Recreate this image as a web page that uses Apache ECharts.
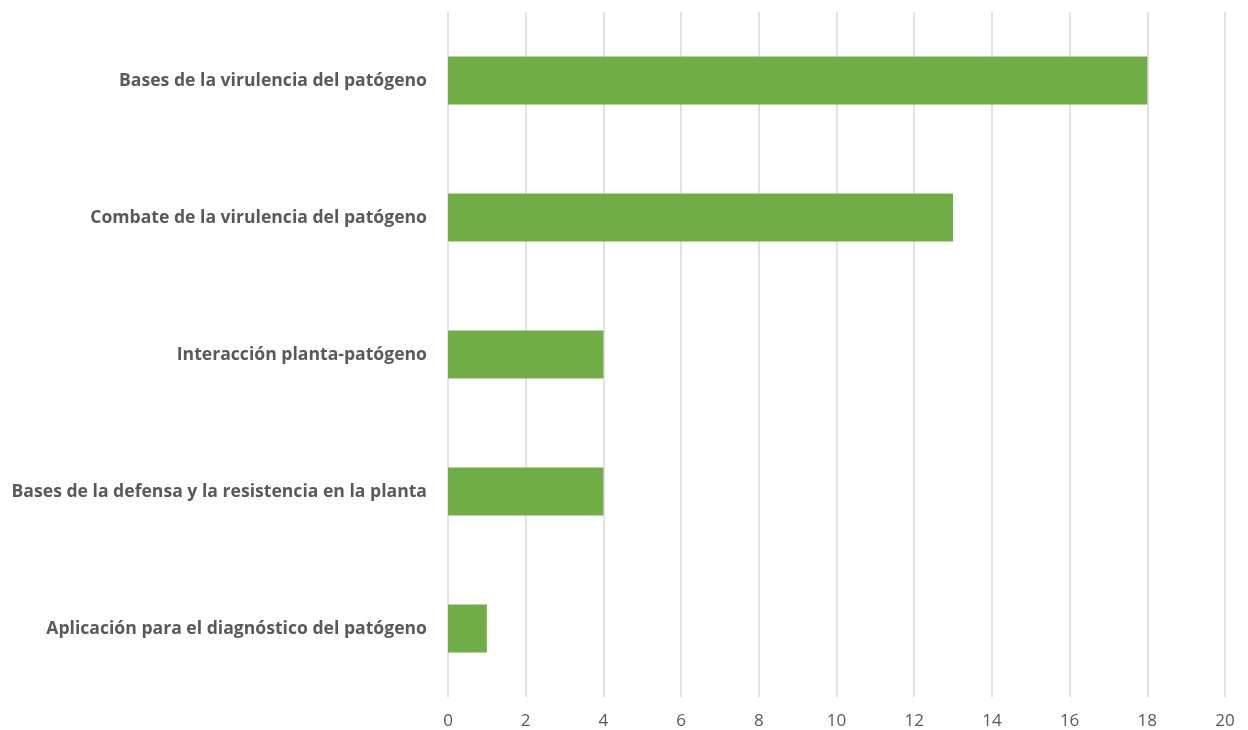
<!DOCTYPE html>
<html><head><meta charset="utf-8">
<script src="https://cdn.jsdelivr.net/npm/echarts@6/dist/echarts.min.js"></script>
<style>html,body{margin:0;padding:0;background:#fff}#c{width:1248px;height:730px}</style>
</head><body><div id="c"></div>
<script>
const categories = [
  "Bases de la virulencia del patógeno",
  "Combate de la virulencia del patógeno",
  "Interacción planta-patógeno",
  "Bases de la defensa y la resistencia en la planta",
  "Aplicación para el diagnóstico del patógeno"
];
const values = [18, 13, 4, 4, 1];

const chart = echarts.init(document.getElementById('c'));
chart.setOption({
  animation: false,
  backgroundColor: '#ffffff',
  grid: { left: 448, right: 23, top: 12, bottom: 33, containLabel: false },
  xAxis: {
    type: 'value', min: 0, max: 20, interval: 2,
    axisLine: { show: false }, axisTick: { show: false },
    splitLine: { show: true, lineStyle: { color: '#d9d9d9', width: 1.5 } },
    axisLabel: { color: '#595959', fontFamily: 'Open Sans', fontSize: 17, margin: 16 }
  },
  yAxis: {
    type: 'category', data: categories, inverse: true,
    axisLine: { show: false }, axisTick: { show: false },
    axisLabel: { color: '#595959', fontFamily: 'Open Sans', fontWeight: 'bold', fontSize: 17.6, margin: 21 }
  },
  series: [{
    type: 'bar', data: values, barWidth: '35%',
    itemStyle: { color: '#70ad47' }
  }]
});
</script></body></html>
